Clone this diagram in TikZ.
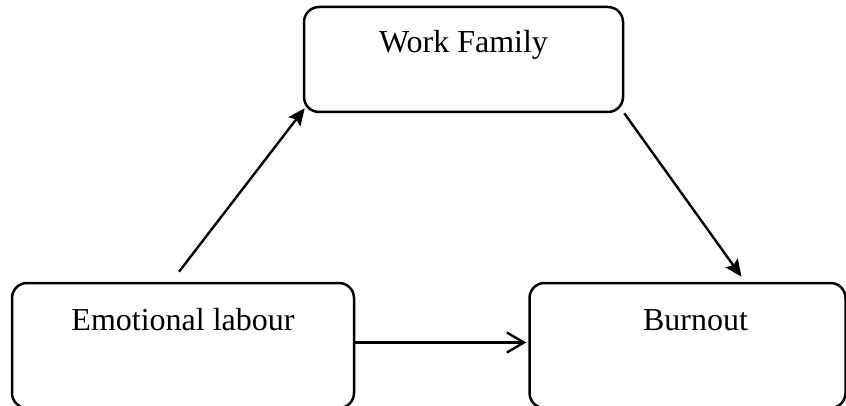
\documentclass[tikz,border=0pt]{standalone}
\usepackage{fontspec}
\setmainfont{Liberation Serif}
\usetikzlibrary{arrows.meta,positioning}

\tikzset{
  factor/.style={draw, rounded corners=15pt, line width=2.5pt, inner sep=0pt,
    font=\fontsize{32}{38}\selectfont},
  upper/.style={text height=46pt, text depth=59pt},
  lower/.style={text height=47pt, text depth=78pt}
}

\begin{document}
\begin{tikzpicture}[x=1pt,y=-1pt,line width=2.4pt,
    >={Stealth[length=17pt,width=15pt,inset=3pt]}]
            \useasboundingbox (0,0) rectangle (846,406);

            \node[factor,lower,minimum width=342pt] (el) at (183,345.5) {Emotional labour};

            \node[factor,lower,minimum width=316pt] (bo) [right=173pt of el] {\hspace*{16pt}Burnout};

            \node[factor,upper,minimum width=319pt] (wf) at (463.5,59.5) {Work Family};

            

            \draw[->] ([xshift=-4pt,yshift=10pt]el.north) -- ([xshift=2pt,yshift=5pt]wf.south west);

            \draw[->] (wf.south east) -- ([xshift=54pt,yshift=5pt]bo.north);

            \draw[-{Straight Barb[length=17pt,width=20pt]}] ([yshift=3pt]el.east) -- ([xshift=-2pt,yshift=3pt]bo.west);

        \end{tikzpicture}
\end{document}
